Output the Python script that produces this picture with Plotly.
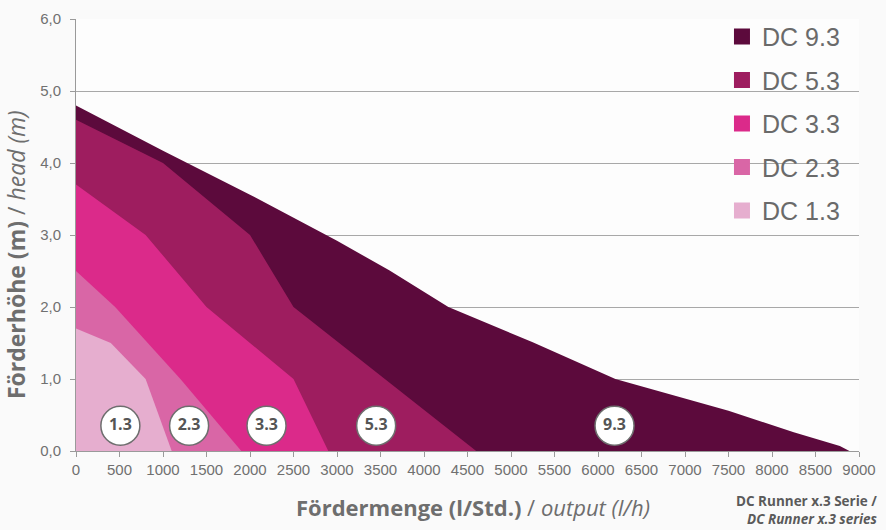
import plotly.graph_objects as go

# ---- data ----
series_names = ["DC 9.3", "DC 5.3", "DC 3.3", "DC 2.3", "DC 1.3"]
series_colors = ["#5c0a3c", "#9e1d5f", "#db2a8a", "#d966a6", "#e6aecf"]

dc93_x = [0, 1000, 2000, 3000, 3600, 4280, 5250, 6200, 7500, 8250, 8780, 8890]
dc93_y = [4.8, 4.17, 3.56, 2.92, 2.51, 2.0, 1.51, 1.0, 0.56, 0.26, 0.07, 0.0]
dc53_x = [0, 1000, 2000, 2500, 4600]
dc53_y = [4.6, 4.0, 3.0, 2.0, 0.0]
dc33_x = [0, 800, 1500, 2500, 2900]
dc33_y = [3.7, 3.0, 2.0, 1.0, 0.0]
dc23_x = [0, 450, 1200, 1900]
dc23_y = [2.5, 2.0, 1.0, 0.0]
dc13_x = [0, 400, 800, 1100]
dc13_y = [1.7, 1.5, 1.0, 0.0]

label_texts = ["1.3", "2.3", "3.3", "5.3", "9.3"]
label_x = [510, 1300, 2190, 3450, 6190]
label_y = [0.35, 0.35, 0.35, 0.35, 0.35]

x_tick_vals = list(range(0, 9001, 500))
x_tick_text = [str(v) for v in x_tick_vals]
y_tick_vals = [0, 1, 2, 3, 4, 5, 6]
y_tick_text = ["0,0", "1,0", "2,0", "3,0", "4,0", "5,0", "6,0"]

series_x = [dc93_x, dc53_x, dc33_x, dc23_x, dc13_x]
series_y = [dc93_y, dc53_y, dc33_y, dc23_y, dc13_y]

fig = go.Figure()

# filled areas (drawn back to front)
for name, col, xs, ys in zip(series_names, series_colors, series_x, series_y):
    fig.add_trace(go.Scatter(
        x=xs, y=ys, mode="none", fill="tozeroy", fillcolor=col,
        line=dict(width=0), name=name, showlegend=False, hoverinfo="skip"))

# legend entries with square symbols
for name, col in zip(series_names, series_colors):
    fig.add_trace(go.Scatter(
        x=[None], y=[None], mode="markers", name=name, legendgroup=name,
        marker=dict(symbol="square", size=18, color=col, line=dict(width=0)),
        showlegend=True))

# circle labels
fig.add_trace(go.Scatter(
    x=label_x, y=label_y, mode="markers+text", text=label_texts,
    textposition="middle center",
    textfont=dict(family="Open Sans", size=16, color="#555555", weight="bold"),
    marker=dict(size=39, color="white", line=dict(color="#6e6e6e", width=1.5)),
    showlegend=False, hoverinfo="skip", cliponaxis=False))

fig.update_layout(
    width=886, height=530,
    margin=dict(l=76, r=27, t=10, b=79),
    paper_bgcolor="#fafafa",
    plot_bgcolor="#fdfdfd",
    font=dict(family="Liberation Sans, Arial, sans-serif", color="#707070"),
    legend=dict(
        x=0.825, y=1.012, xanchor="left", yanchor="top",
        bgcolor="rgba(0,0,0,0)", traceorder="grouped", tracegroupgap=8,
        font=dict(family="Liberation Sans, Arial, sans-serif", size=25, color="#6a6a6a"),
    ),
    xaxis=dict(
        range=[0, 9000], tickvals=x_tick_vals, ticktext=x_tick_text,
        showgrid=False, zeroline=False, showline=True, linecolor="#9a9a9a", linewidth=1,
        ticks="outside", ticklen=5, tickcolor="#9a9a9a",
        tickfont=dict(size=15, color="#707070"),
    ),
    yaxis=dict(
        range=[0, 6], tickvals=y_tick_vals, ticktext=y_tick_text,
        showgrid=True, gridcolor="#a8a8a8", gridwidth=1, zeroline=False,
        showline=True, linecolor="#9a9a9a", linewidth=1,
        ticks="outside", ticklen=5, tickcolor="#9a9a9a", ticklabelstandoff=6,
        tickfont=dict(size=15, color="#707070"),
    ),
    annotations=[
        dict(text="<b>Fördermenge (l/Std.)</b> / <i>output (l/h)</i>",
             xref="paper", yref="paper", x=(473 - 76) / 783, y=-(508 - 451) / 441,
             xanchor="center", yanchor="middle", showarrow=False,
             font=dict(family="Open Sans", size=22, color="#6e6e6e")),
        dict(text="<b>Förderhöhe (m)</b> / <i>head (m)</i>",
             xref="paper", yref="paper", x=-(76 - 16) / 783, y=(451 - 251) / 441,
             xanchor="center", yanchor="middle", textangle=-90, showarrow=False,
             font=dict(family="Open Sans", size=23, color="#6e6e6e")),
        dict(text="<b>DC Runner x.3 Serie /</b><br><b><i>DC Runner x.3 series</i></b>",
             xref="paper", yref="paper", x=(879 - 76) / 783, y=-(511 - 451) / 441,
             xanchor="right", yanchor="middle", align="right", showarrow=False,
             font=dict(family="Open Sans", size=13.5, color="#5a5a5a")),
    ],
)

fig.write_html("out.html", config={"displayModeBar": False},
               post_script="document.body.style.margin='0';document.body.style.padding='0';")
